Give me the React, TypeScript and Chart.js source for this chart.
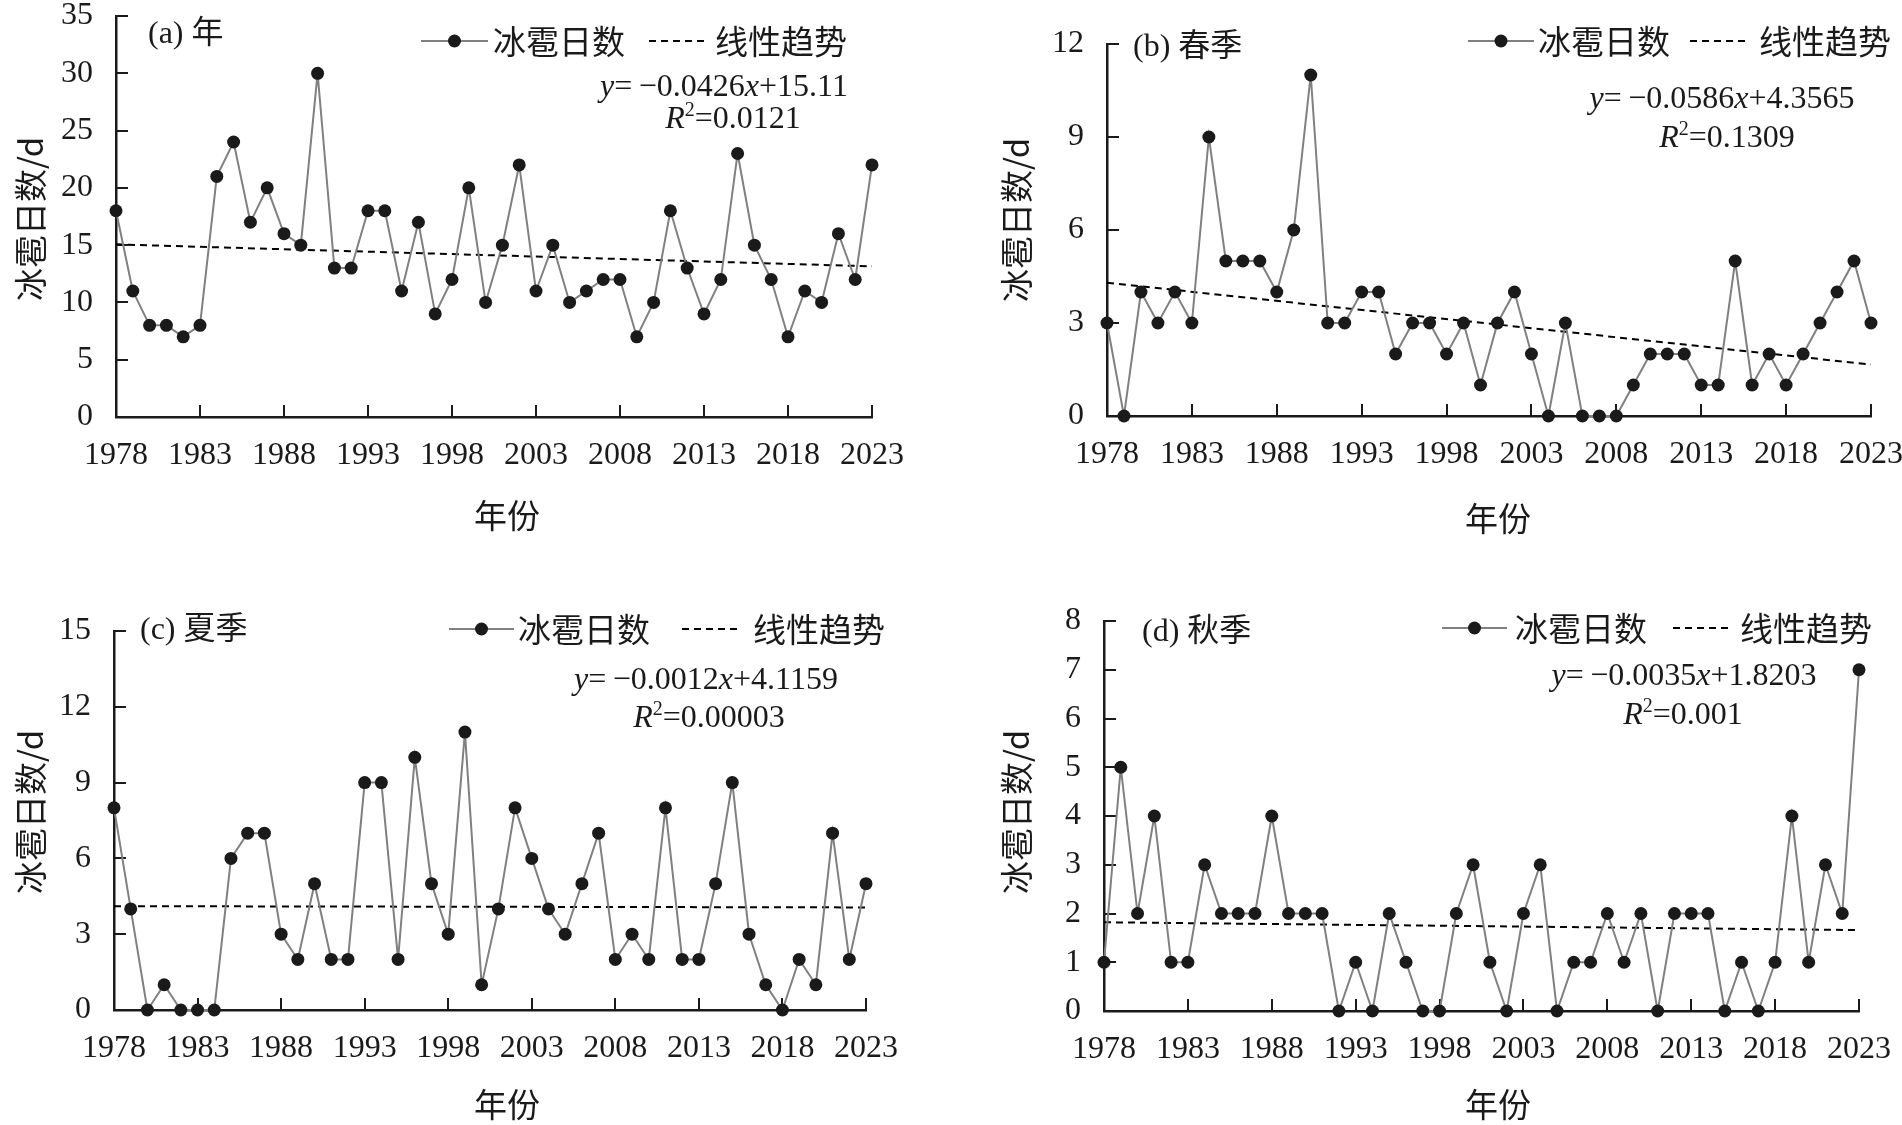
import React, { useEffect, useRef } from 'react';
import { Chart, registerables } from 'chart.js';

Chart.register(...registerables);

// ---------------- data ----------------
const years = [
  1978, 1979, 1980, 1981, 1982, 1983, 1984, 1985, 1986, 1987, 1988, 1989,
  1990, 1991, 1992, 1993, 1994, 1995, 1996, 1997, 1998, 1999, 2000, 2001,
  2002, 2003, 2004, 2005, 2006, 2007, 2008, 2009, 2010, 2011, 2012, 2013,
  2014, 2015, 2016, 2017, 2018, 2019, 2020, 2021, 2022, 2023,
];
const tickYears = [1978, 1983, 1988, 1993, 1998, 2003, 2008, 2013, 2018, 2023];

const annualDays = [18, 11, 8, 8, 7, 8, 21, 24, 17, 20, 16, 15, 30, 13, 13, 18, 18, 11, 17, 9, 12, 20, 10, 15, 22, 11, 15, 10, 11, 12, 12, 7, 10, 18, 13, 9, 12, 23, 15, 12, 7, 11, 10, 16, 12, 22];
const springDays = [3, 0, 4, 3, 4, 3, 9, 5, 5, 5, 4, 6, 11, 3, 3, 4, 4, 2, 3, 3, 2, 3, 1, 3, 4, 2, 0, 3, 0, 0, 0, 1, 2, 2, 2, 1, 1, 5, 1, 2, 1, 2, 3, 4, 5, 3];
const summerDays = [8, 4, 0, 1, 0, 0, 0, 6, 7, 7, 3, 2, 5, 2, 2, 9, 9, 2, 10, 5, 3, 11, 1, 4, 8, 6, 4, 3, 5, 7, 2, 3, 2, 8, 2, 2, 5, 9, 3, 1, 0, 2, 1, 7, 2, 5];
const autumnDays = [1, 5, 2, 4, 1, 1, 3, 2, 2, 2, 4, 2, 2, 2, 0, 1, 0, 2, 1, 0, 0, 2, 3, 1, 0, 2, 3, 0, 1, 1, 2, 1, 2, 0, 2, 2, 2, 0, 1, 0, 1, 4, 1, 3, 2, 7];

// trend line end values (1978, 2023)
const annualTrend = [15.07, 13.15];
const springTrend = [4.30, 1.66];
const summerTrend = [4.11, 4.06];
const autumnTrend = [1.82, 1.66];

const annualYTicks = [0, 5, 10, 15, 20, 25, 30, 35];
const springYTicks = [0, 3, 6, 9, 12];
const summerYTicks = [0, 3, 6, 9, 12, 15];
const autumnYTicks = [0, 1, 2, 3, 4, 5, 6, 7, 8];

const panelTitles = ['(a) 年', '(b) 春季', '(c) 夏季', '(d) 秋季'];
const eqSlopes = ['0.0426', '0.0586', '0.0012', '0.0035'];
const eqIntercepts = ['15.11', '4.3565', '4.1159', '1.8203'];
const r2Values = ['0.0121', '0.1309', '0.00003', '0.001'];

const seriesName = '冰雹日数';
const trendName = '线性趋势';
const yAxisTitle = '冰雹日数/d';
const xAxisTitle = '年份';

// ---------------- styling / layout ----------------
const SERIF = '"Liberation Serif", "Times New Roman", "Noto Sans CJK SC", serif';
const CJK = '"Noto Sans CJK SC", sans-serif';
const INK = '#1a1a1a';
const LINE_GRAY = '#808080';
const Y_W = 100;
const X_H = 80;

type Cfg = {
  canvas: { x: number; y: number; w: number; h: number };
  area: { l: number; t: number; r: number; b: number };
  title: { x: number; y: number };
  legend: { y: number; line: number[]; text1X: number; dash: number[]; text2X: number };
  eq: { cx: number; y: number };
  r2: { cx: number; y: number };
  yTitle: { x: number; y: number };
  xTitle: { x: number; y: number };
};

const layouts: Cfg[] = [
  {
    canvas: { x: 0, y: 0, w: 951, h: 560 },
    area: { l: 116, t: 16, r: 872, b: 417 },
    title: { x: 148, y: 35 },
    legend: { y: 41, line: [421, 488], text1X: 493, dash: [649, 707], text2X: 715 },
    eq: { cx: 724, y: 88 },
    r2: { cx: 733, y: 120 },
    yTitle: { x: 30, y: 219 },
    xTitle: { x: 507, y: 515 },
  },
  {
    canvas: { x: 951, y: 0, w: 951, h: 560 },
    area: { l: 1107, t: 44, r: 1871, b: 416 },
    title: { x: 1133, y: 48 },
    legend: { y: 41, line: [1468, 1534], text1X: 1538, dash: [1690, 1747], text2X: 1759 },
    eq: { cx: 1722, y: 100 },
    r2: { cx: 1727, y: 139 },
    yTitle: { x: 1016, y: 220 },
    xTitle: { x: 1498, y: 518 },
  },
  {
    canvas: { x: 0, y: 560, w: 951, h: 565 },
    area: { l: 114, t: 631, r: 866, b: 1010 },
    title: { x: 140, y: 631 },
    legend: { y: 629, line: [449, 514], text1X: 518, dash: [682, 740], text2X: 753 },
    eq: { cx: 706, y: 681 },
    r2: { cx: 709, y: 719 },
    yTitle: { x: 30, y: 812 },
    xTitle: { x: 507, y: 1104 },
  },
  {
    canvas: { x: 951, y: 560, w: 951, h: 565 },
    area: { l: 1104, t: 621, r: 1859, b: 1011 },
    title: { x: 1142, y: 633 },
    legend: { y: 628, line: [1442, 1507], text1X: 1515, dash: [1673, 1732], text2X: 1740 },
    eq: { cx: 1684, y: 677 },
    r2: { cx: 1683, y: 716 },
    yTitle: { x: 1016, y: 812 },
    xTitle: { x: 1498, y: 1104 },
  },
];

type Seg = { t: string; font: string; dy?: number };

function drawRich(ctx: CanvasRenderingContext2D, segs: Seg[], cx: number, cy: number) {
  let total = 0;
  const widths = segs.map((s) => {
    ctx.font = s.font;
    const w = ctx.measureText(s.t).width;
    total += w;
    return w;
  });
  let x = cx - total / 2;
  ctx.textAlign = 'left';
  ctx.textBaseline = 'middle';
  segs.forEach((s, i) => {
    ctx.font = s.font;
    ctx.fillText(s.t, x, cy + (s.dy || 0));
    x += widths[i];
  });
}

type PanelProps = {
  index: number;
  values: number[];
  trend: number[];
  yTicks: number[];
};

function Panel({ index, values, trend, yTicks }: PanelProps) {
  const ref = useRef<HTMLCanvasElement>(null);
  const cfg = layouts[index];

  useEffect(() => {
    const canvas = ref.current;
    if (!canvas) return;
    const ox = cfg.canvas.x;
    const oy = cfg.canvas.y;
    const labels = years.map(String);

    const decor = {
      id: 'decor' + index,
      beforeDatasetsDraw(chart: any) {
        const { ctx, chartArea: a, scales } = chart;
        ctx.save();
        ctx.strokeStyle = INK;
        ctx.lineWidth = 2;
        ctx.beginPath();
        yTicks.forEach((v) => {
          const py = Math.round(scales.y.getPixelForValue(v));
          ctx.moveTo(a.left, py);
          ctx.lineTo(a.left + 12, py);
        });
        tickYears.forEach((yr) => {
          const px = Math.round(scales.x.getPixelForValue(years.indexOf(yr)));
          ctx.moveTo(px, a.bottom);
          ctx.lineTo(px, a.bottom - 12);
        });
        ctx.stroke();
        ctx.restore();
      },
      afterDraw(chart: any) {
        const ctx: CanvasRenderingContext2D = chart.ctx;
        ctx.save();
        ctx.fillStyle = INK;
        // panel title
        ctx.font = `32px ${SERIF}`;
        ctx.textAlign = 'left';
        ctx.textBaseline = 'middle';
        ctx.fillText(panelTitles[index], cfg.title.x - ox, cfg.title.y - oy);

        // legend
        const lg = cfg.legend;
        const ly = lg.y - oy;
        ctx.strokeStyle = LINE_GRAY;
        ctx.lineWidth = 2;
        ctx.beginPath();
        ctx.moveTo(lg.line[0] - ox, ly);
        ctx.lineTo(lg.line[1] - ox, ly);
        ctx.stroke();
        ctx.beginPath();
        ctx.arc((lg.line[0] + lg.line[1]) / 2 - ox, ly, 6.5, 0, Math.PI * 2);
        ctx.fill();
        ctx.font = `33px ${CJK}`;
        ctx.fillText(seriesName, lg.text1X - ox, ly);
        ctx.strokeStyle = '#000';
        ctx.setLineDash([7, 5]);
        ctx.beginPath();
        ctx.moveTo(lg.dash[0] - ox, ly);
        ctx.lineTo(lg.dash[1] - ox, ly);
        ctx.stroke();
        ctx.setLineDash([]);
        ctx.fillText(trendName, lg.text2X - ox, ly);

        // equation
        const f = `32px ${SERIF}`;
        const fi = `italic 32px ${SERIF}`;
        drawRich(
          ctx,
          [
            { t: 'y', font: fi },
            { t: '=\u2009\u2212' + eqSlopes[index], font: f },
            { t: 'x', font: fi },
            { t: '+' + eqIntercepts[index], font: f },
          ],
          cfg.eq.cx - ox,
          cfg.eq.y - oy
        );
        drawRich(
          ctx,
          [
            { t: 'R', font: fi },
            { t: '2', font: `20px ${SERIF}`, dy: -9 },
            { t: '=' + r2Values[index], font: f },
          ],
          cfg.r2.cx - ox,
          cfg.r2.y - oy
        );

        // axis titles
        ctx.font = `33px ${CJK}`;
        ctx.textAlign = 'center';
        ctx.textBaseline = 'middle';
        ctx.fillText(xAxisTitle, cfg.xTitle.x - ox, cfg.xTitle.y - oy);
        ctx.save();
        ctx.translate(cfg.yTitle.x - ox, cfg.yTitle.y - oy);
        ctx.rotate(-Math.PI / 2);
        ctx.fillText(yAxisTitle, 0, 0);
        ctx.restore();
        ctx.restore();
      },
    };

    const padding = {
      left: cfg.area.l - ox - Y_W,
      top: cfg.area.t - oy,
      right: ox + cfg.canvas.w - cfg.area.r,
      bottom: oy + cfg.canvas.h - cfg.area.b - X_H,
    };

    const chart = new Chart(canvas, {
      type: 'line',
      data: {
        labels,
        datasets: [
          {
            label: seriesName,
            data: values,
            borderColor: LINE_GRAY,
            borderWidth: 2,
            pointRadius: 6.5,
            pointHoverRadius: 6.5,
            pointBackgroundColor: INK,
            pointBorderColor: INK,
            pointBorderWidth: 0,
            tension: 0,
            clip: false,
          } as any,
          {
            label: trendName,
            data: [
              { x: labels[0], y: trend[0] },
              { x: labels[labels.length - 1], y: trend[1] },
            ],
            borderColor: '#000',
            borderWidth: 2,
            borderDash: [7, 5],
            pointRadius: 0,
            tension: 0,
            clip: false,
          } as any,
        ],
      },
      options: {
        animation: false,
        responsive: false,
        maintainAspectRatio: false,
        events: [],
        layout: { padding },
        plugins: {
          legend: { display: false },
          tooltip: { enabled: false },
          title: { display: false },
        },
        scales: {
          x: {
            type: 'category',
            grid: { display: false, drawTicks: false },
            border: { display: true, color: INK, width: 2.5 },
            ticks: {
              autoSkip: false,
              maxRotation: 0,
              minRotation: 0,
              padding: 23,
              color: INK,
              font: { family: SERIF, size: 32, lineHeight: 1 },
              callback: (_v: any, i: number) => (tickYears.includes(years[i]) ? String(years[i]) : ''),
            },
            afterFit: (s: any) => {
              s.height = X_H;
              s.paddingLeft = 0;
              s.paddingRight = 0;
            },
          },
          y: {
            type: 'linear',
            min: yTicks[0],
            max: yTicks[yTicks.length - 1],
            grid: { display: false, drawTicks: false },
            border: { display: true, color: INK, width: 2.5 },
            ticks: {
              padding: 23,
              color: INK,
              font: { family: SERIF, size: 32, lineHeight: 1 },
            },
            afterBuildTicks: (s: any) => {
              s.ticks = yTicks.map((v) => ({ value: v }));
            },
            afterFit: (s: any) => {
              s.width = Y_W;
              s.paddingTop = 0;
              s.paddingBottom = 0;
            },
          },
        },
      } as any,
      plugins: [decor],
    });
    return () => chart.destroy();
  }, []);

  return (
    <canvas
      ref={ref}
      width={cfg.canvas.w}
      height={cfg.canvas.h}
      style={{
        position: 'absolute',
        left: cfg.canvas.x,
        top: cfg.canvas.y,
        width: cfg.canvas.w,
        height: cfg.canvas.h,
      }}
    />
  );
}

export default function App() {
  return (
    <div
      style={{
        position: 'absolute',
        left: 0,
        top: 0,
        width: 1902,
        height: 1125,
        background: '#ffffff',
        overflow: 'hidden',
      }}
    >
      <Panel index={0} values={annualDays} trend={annualTrend} yTicks={annualYTicks} />
      <Panel index={1} values={springDays} trend={springTrend} yTicks={springYTicks} />
      <Panel index={2} values={summerDays} trend={summerTrend} yTicks={summerYTicks} />
      <Panel index={3} values={autumnDays} trend={autumnTrend} yTicks={autumnYTicks} />
    </div>
  );
}
